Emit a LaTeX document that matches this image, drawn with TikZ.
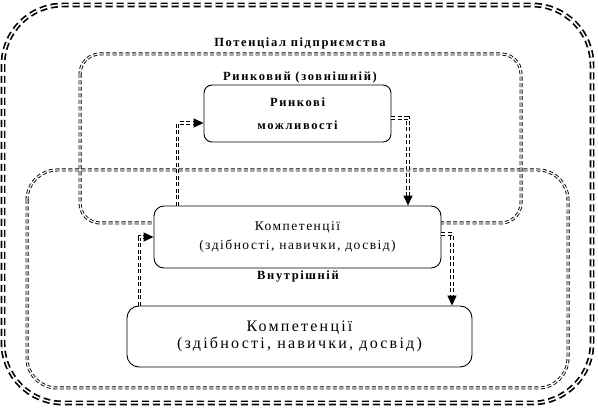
\documentclass[tikz,border=0pt]{standalone}
\usepackage{fontspec}
\setmainfont{Liberation Serif}
\usetikzlibrary{arrows.meta}
\tikzset{
  outerline/.style={draw=black, line width=1.7pt, double=white, double distance=1.5pt, dash pattern=on 7pt off 4pt, rounded corners=60pt},
  zoneline/.style={draw=black, line width=0.9pt, double=white, double distance=1.2pt, dash pattern=on 4pt off 2.5pt},
  arr/.style={draw=black, line width=1.1pt, double=white, double distance=1.1pt, dash pattern=on 4pt off 2.5pt, -{Triangle[length=10pt,width=9pt]}},
  box/.style={draw=black, line width=0.9pt, fill=white, rounded corners=10pt, inner sep=0pt, align=center},
  zlabel/.style={font=\bfseries\fontsize{12.5}{14}\selectfont\addfontfeature{LetterSpace=13}, inner sep=1pt}
}
\begin{document}
\begin{tikzpicture}[x=1pt,y=-1pt]
\useasboundingbox (0,0) rectangle (598,414);
% zones
\draw[outerline] (3,5) rectangle (592,403);
\draw[zoneline, rounded corners=30pt] (27,170) rectangle (568,388);
\draw[zoneline, rounded corners=20pt] (80,54) rectangle (521,223);
% labels
\node[zlabel] (lpot) at (300,43) {Потенціал підприємства};
\node[zlabel] (lrin) at (300,77) {Ринковий (зовнішній)};
\node[zlabel] (lvn) at (298,277) {Внутрішній};
% boxes
\node[box, minimum width=187pt, minimum height=57pt, rounded corners=8pt,
  font=\bfseries\fontsize{12.5}{23}\selectfont\addfontfeature{LetterSpace=13}] (rinok) at (297.5,113.5) {Ринкові\\можливості};
\node[box, minimum width=287pt, minimum height=62pt,
  font=\fontsize{13.5}{19}\selectfont\addfontfeature{LetterSpace=11}] (mid) at (297.5,237) {Компетенції\\(здібності, навички, досвід)};
\node[box, minimum width=345pt, minimum height=61pt, rounded corners=12pt,
  font=\fontsize{16}{17}\selectfont\addfontfeature{LetterSpace=14}] (bot) at (299.5,336.5) {Компетенції\\(здібності, навички, досвід)};
% connector end points
\coordinate (a1s) at ([xshift=24pt]mid.north west);
\coordinate (a1e) at ([yshift=-9.5pt]rinok.west);
\coordinate (a2s) at ([yshift=-4.5pt]rinok.east);
\coordinate (a2e) at ([xshift=110.5pt]mid.north);
\coordinate (a3s) at ([xshift=13pt]bot.north west);
\coordinate (a4s) at ([yshift=3pt]mid.east);
\coordinate (a4e) at ([xshift=152.5pt]bot.north);
% connectors
\draw[arr] (a1s) |- (a1e);
\draw[arr] (a2s) -- (a2s -| a2e) -- (a2e);
\draw[arr] (a3s) |- (mid.west);
\draw[arr] (a4s) -- (a4s -| a4e) -- (a4e);
\end{tikzpicture}
\end{document}
